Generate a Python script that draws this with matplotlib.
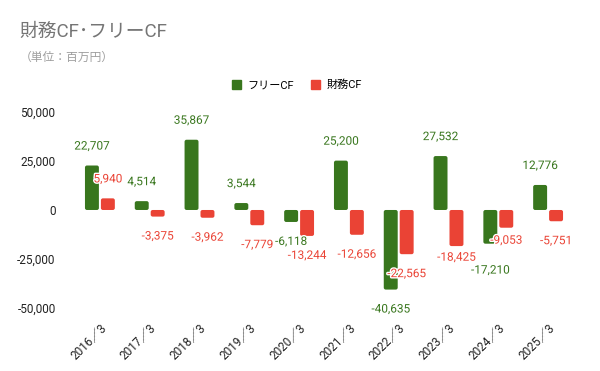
import matplotlib
matplotlib.use("Agg")
import matplotlib.pyplot as plt
import matplotlib.patheffects as pe
from matplotlib.patches import Patch, FancyBboxPatch
import numpy as np

years = ["2016／3", "2017／3", "2018／3", "2019／3", "2020／3",
         "2021／3", "2022／3", "2023／3", "2024／3", "2025／3"]
free_cf = [22707, 4514, 35867, 3544, -6118, 25200, -40635, 27532, -17210, 12776]
fin_cf = [5940, -3375, -3962, -7779, -13244, -12656, -22565, -18425, -9053, -5751]

GREEN = "#38761d"
RED = "#ea4335"
FONT = ["Roboto", "Noto Sans CJK JP", "DejaVu Sans"]

plt.rcParams["font.family"] = FONT

fig = plt.figure(figsize=(6, 3.71), dpi=100)
ax = fig.add_axes([0.125, 0.170, 0.83, 0.528])
ax.set_xlim(-0.5, len(years) - 0.5)
ax.set_ylim(-50000, 50000)

x = np.arange(len(years))
w = 0.28
off = 0.16
bars_free = ax.bar(x - off, free_cf, w, color=GREEN)
bars_fin = ax.bar(x + off, fin_cf, w, color=RED)

# swap plain bars for slightly rounded ones
px_x = 10 / (0.83 * 600)        # data units per pixel, x
px_y = 100000 / (0.528 * 371)   # data units per pixel, y
for bars, col in [(bars_free, GREEN), (bars_fin, RED)]:
    for r in bars:
        x0, y0 = r.get_x(), r.get_y()
        h = r.get_height()
        if h < 0:
            y0, h = y0 + h, -h
        rr = min(2 * px_x, h / px_y * px_x / 2)
        fb = FancyBboxPatch((x0, y0), r.get_width(), h,
                            boxstyle=f"round,pad=0,rounding_size={rr}",
                            mutation_aspect=px_y / px_x, color=col, lw=0)
        r.remove()
        ax.add_patch(fb)

# value labels (Google Charts nudges a few to avoid collisions)
halo = [pe.withStroke(linewidth=2, foreground="white")]
free_off = {8: -19}
fin_off = {7: -8, 8: -9}
for i, v in enumerate(free_cf):
    d = free_off.get(i, 14 if v >= 0 else -14)
    ax.annotate(f"{v:,}", (x[i] - off, v), xytext=(0, d),
                textcoords="offset points", ha="center", va="center",
                fontsize=8.5, color=GREEN, path_effects=halo)
for i, v in enumerate(fin_cf):
    d = fin_off.get(i, 14 if v >= 0 else -14)
    ax.annotate(f"{v:,}", (x[i] + off, v), xytext=(0, d),
                textcoords="offset points", ha="center", va="center",
                fontsize=8.5, color=RED, path_effects=halo)

ax.set_yticks([-50000, -25000, 0, 25000, 50000])
ax.set_yticklabels([f"{t:,}" for t in [-50000, -25000, 0, 25000, 50000]])
ax.set_xticks(x)
ax.set_xticklabels(years, rotation=45, ha="right", rotation_mode="anchor")
ax.tick_params(axis="both", length=0, labelsize=8.5, colors="#222222")
ax.tick_params(axis="x", pad=10)
ax.tick_params(axis="y", pad=14)
for s in ax.spines.values():
    s.set_visible(False)

fig.text(0.033, 0.915, "財務CF･フリーCF", fontsize=13.5, color="#757575",
         va="center", ha="left")
fig.text(0.033, 0.846, "（単位：百万円）", fontsize=8.5, color="#9e9e9e",
         va="center", ha="left")

handles = [Patch(color=GREEN, label="フリーCF"), Patch(color=RED, label="財務CF")]
fig.legend(handles=handles, loc="center", bbox_to_anchor=(0.495, 0.771), ncol=2,
           frameon=False, fontsize=8, handlelength=0.8, handleheight=0.8,
           columnspacing=1.5, handletextpad=0.6)

fig.savefig("out.png", dpi=100)
